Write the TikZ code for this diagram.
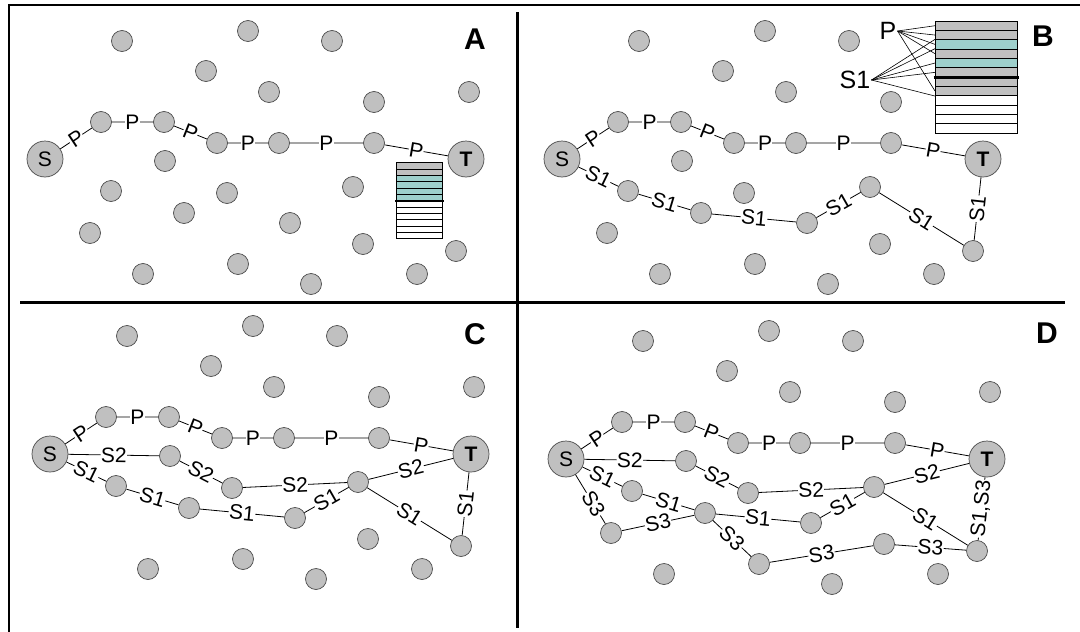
\documentclass[tikz,border=0pt]{standalone}
\usepackage{fontspec}
\setmainfont{Liberation Sans}

\begin{document}
\begin{tikzpicture}[x=1pt, y=-1pt, font=\fontsize{21}{25}\selectfont,
    sensor/.style={circle, draw=black!70, fill=fieldgray, line width=0.7pt, minimum size=21pt, inner sep=0pt},
    terminal/.style={sensor, minimum size=36pt},
    link/.style={line width=0.8pt},
    hop/.style={fill=white, inner sep=0.4pt, sloped},
    slot/.style={draw, line width=0.7pt, inner sep=0pt, anchor=north west},
    panelname/.style={font=\fontsize{30}{34}\selectfont\bfseries}]
    % Colors for the field and the buffer slots
    \definecolor{fieldgray}{RGB}{192,192,192}
    \definecolor{slotcyan}{RGB}{158,208,204}

    \useasboundingbox (0,0) rectangle (1080,632);

    % Frame and quadrant dividers
    \draw[line width=2pt] (8.5,632) -- (8.5,5) -- (1080,5);
    \draw[line width=3pt] (517.5,12) -- (517.5,628);
    \draw[line width=3pt] (20,302.7) -- (1065,302.7);

    % Sensor field shared by all panels (panel A coordinates)
    \def\fielddots{n1/122/41, n2/248/31, n3/332/41, n4/206/71, n5/269/92,
        n6/374/102, n7/469/92, n8/101/122, n9/164/122, n10/217/143,
        n11/279/143, n12/374/143, n13/165/161, n14/111/191, n15/227/193,
        n16/353/187, n17/184/213, n19/290/223, n20/363/244, n21/456/251,
        n22/143/274, n23/238/264, n24/311/284, n25/417/274}

    % Panel A: primary path P, buffer of T
    \begin{scope}[name prefix=a-]
        \foreach \nm/\x/\y in \fielddots {\node[sensor] (\nm) at (\x,\y) {};}
        \node[sensor] (n18) at (90,233) {};
        \node[terminal] (s) at (45,159) {S};
        \node[terminal] (t) at (466,159) {\textbf{T}};
        \draw[link] (s) -- node[hop] {P} (n8) -- node[hop] {P} (n9) -- node[hop] {P} (n10)
            -- node[hop] {P} (n11) -- node[hop] {P} (n12) -- node[hop] {P} (t);
        % Buffer
        \foreach \i/\col in {1/fieldgray, 2/fieldgray, 3/slotcyan, 4/slotcyan, 5/slotcyan, 6/slotcyan,
            7/white, 8/white, 9/white, 10/white, 11/white, 12/white} {
            \node[slot, fill=\col, minimum width=46pt, minimum height=6.33pt] (row\i) at (396,{162.3+6.33*(\i-1)}) {};
        }
        \draw[line width=2.5pt] ([xshift=-1pt]row6.south west) -- ([xshift=1pt]row6.south east);
        \node[panelname] (tag) at (475,39) {A};
    \end{scope}

    % Panel B: first backup path S1
    \begin{scope}[shift={(517,0)}, name prefix=b-]
        \foreach \nm/\x/\y in \fielddots {\node[sensor] (\nm) at (\x,\y) {};}
        \node[sensor] (n18) at (90,233) {};
        \node[terminal] (s) at (45,159) {S};
        \node[terminal] (t) at (466,159) {\textbf{T}};
        \draw[link] (s) -- node[hop] {P} (n8) -- node[hop] {P} (n9) -- node[hop] {P} (n10)
            -- node[hop] {P} (n11) -- node[hop] {P} (n12) -- node[hop] {P} (t);
        \draw[link] (s) -- node[hop] {S1} (n14) -- node[hop] {S1} (n17) -- node[hop] {S1} (n19)
            -- node[hop] {S1} (n16) -- node[hop] {S1} (n21) -- node[hop] {S1} (t);
        % Buffer shared by P and S1
        \foreach \i/\col in {1/fieldgray, 2/fieldgray, 3/slotcyan, 4/fieldgray, 5/slotcyan, 6/fieldgray,
            7/fieldgray, 8/fieldgray, 9/white, 10/white, 11/white, 12/white} {
            \node[slot, fill=\col, minimum width=82pt, minimum height=9.33pt] (row\i) at (418,{20.7+9.33*(\i-1)}) {};
        }
        \draw[line width=3pt] ([xshift=-1.5pt]row6.south west) -- ([xshift=1.5pt]row6.south east);
        \node[font=\fontsize{25}{30}\selectfont, inner sep=1pt] (plbl) at (371,31) {P};
        \node[font=\fontsize{25}{30}\selectfont, inner sep=1pt] (slbl) at (338,80) {S1};
        \foreach \r in {1,2,3,4,8} \draw[line width=0.6pt] (plbl.east) -- (row\r.west);
        \foreach \a in {row3.north west, row4.north west, row5.west, row6.west, row8.south west}
            \draw[line width=0.6pt] (slbl.east) -- (\a);
        \node[panelname] (tag) at (526,36) {B};
    \end{scope}

    % Panel C: second backup path S2
    \begin{scope}[shift={(5,295)}, name prefix=c-]
        \foreach \nm/\x/\y in \fielddots {\node[sensor] (\nm) at (\x,\y) {};}
        \node[terminal] (s) at (45,159) {S};
        \node[terminal] (t) at (466,159) {\textbf{T}};
        \draw[link] (s) -- node[hop] {P} (n8) -- node[hop] {P} (n9) -- node[hop] {P} (n10)
            -- node[hop] {P} (n11) -- node[hop] {P} (n12) -- node[hop] {P} (t);
        \draw[link] (s) -- node[hop] {S2} (n13) -- node[hop] {S2} (n15) -- node[hop] {S2} (n16)
            -- node[hop] {S2} (t);
        \draw[link] (s) -- node[hop] {S1} (n14) -- node[hop] {S1} (n17) -- node[hop] {S1} (n19)
            -- node[hop] {S1} (n16) -- node[hop] {S1} (n21) -- node[hop] {S1} (t);
        \node[panelname] (tag) at (470,39) {C};
    \end{scope}

    % Panel D: third backup path S3
    \begin{scope}[shift={(521,300)}, name prefix=d-]
        \foreach \nm/\x/\y in \fielddots {\node[sensor] (\nm) at (\x,\y) {};}
        \node[sensor] (n18) at (90,233) {};
        \node[terminal] (s) at (45,159) {S};
        \node[terminal] (t) at (466,159) {\textbf{T}};
        \draw[link] (s) -- node[hop] {P} (n8) -- node[hop] {P} (n9) -- node[hop] {P} (n10)
            -- node[hop] {P} (n11) -- node[hop] {P} (n12) -- node[hop] {P} (t);
        \draw[link] (s) -- node[hop] {S2} (n13) -- node[hop] {S2} (n15) -- node[hop] {S2} (n16)
            -- node[hop] {S2} (t);
        \draw[link] (s) -- node[hop, pos=0.6] {S3} (n18) -- node[hop] {S3} (n17) -- node[hop] {S3} (n23)
            -- node[hop] {S3} (n20) -- node[hop] {S3} (n21);
        \draw[link] (s) -- node[hop] {S1} (n14) -- node[hop] {S1} (n17) -- node[hop] {S1} (n19)
            -- node[hop] {S1} (n16) -- node[hop] {S1} (n21) -- node[hop] {S1,S3} (t);
        \node[panelname] (tag) at (526,33) {D};
    \end{scope}
\end{tikzpicture}
\end{document}
